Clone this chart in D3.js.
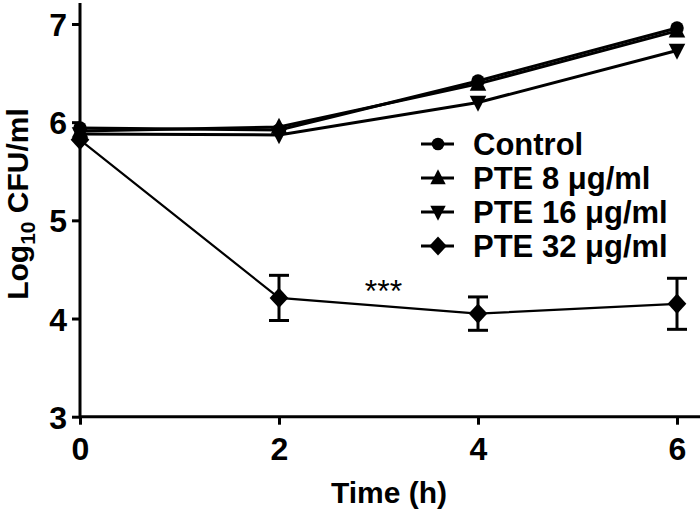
<!DOCTYPE html>
<html>
<head>
<meta charset="utf-8">
<script src="https://cdn.jsdelivr.net/npm/d3@7"></script>
<style>
  body { margin: 0; background: #fff; }
  svg text { font-family: Arial, "Liberation Sans", Helvetica, sans-serif; fill: #000; }
</style>
</head>
<body>
<div id="chart"></div>
<script>
const w = 700;
const h = 512;

// data
const times = [0, 2, 4, 6];
const seriesNames = ["Control", "PTE 8 \u03bcg/ml", "PTE 16 \u03bcg/ml", "PTE 32 \u03bcg/ml"];
const seriesSymbols = ["circle", "triangle", "triangleDown", "diamond"];
const controlVals = [5.94, 5.92, 6.42, 6.96];
const pte8Vals = [5.91, 5.95, 6.39, 6.93];
const pte16Vals = [5.88, 5.87, 6.20, 6.73];
const pte32Vals = [5.82, 4.21, 4.05, 4.15];
const pte32Err = [0, 0.23, 0.17, 0.26];
const xTicks = [0, 2, 4, 6];
const yTicks = [3, 4, 5, 6, 7];
const annotation = { x: 3.05, y: 4.17, label: "***" };

const allVals = [controlVals, pte8Vals, pte16Vals, pte32Vals];

const xScale = d3.scaleLinear().domain([0, 6]).range([80, 677]);
const yScale = d3.scaleLinear().domain([3, 7]).range([416.7, 24]);

const svg = d3.select("#chart")
  .append("svg")
  .attr("width", w)
  .attr("height", h);

// symbol shapes
const symbolPath = (name, s) => {
  if (name === "circle") return d3.symbol(d3.symbolCircle, Math.PI * (s * 0.45) * (s * 0.45))();
  if (name === "triangle") return `M0,${-s * 0.62}L${s * 0.55},${s * 0.45}L${-s * 0.55},${s * 0.45}Z`;
  if (name === "triangleDown") return `M0,${s * 0.62}L${s * 0.55},${-s * 0.45}L${-s * 0.55},${-s * 0.45}Z`;
  return `M0,${-s * 0.6}L${s * 0.55},0L0,${s * 0.6}L${-s * 0.55},0Z`;
};

// axes
const xAxis = d3.axisBottom(xScale).tickValues(xTicks).tickSize(8).tickPadding(13).tickFormat(d3.format("d"));
const yAxis = d3.axisLeft(yScale).tickValues(yTicks).tickSize(8).tickPadding(5).tickFormat(d3.format("d"));

const gx = svg.append("g")
  .attr("transform", "translate(0," + yScale(3) + ")")
  .call(xAxis);
gx.select(".domain").remove();
gx.append("line").attr("x1", 80).attr("x2", 700).attr("stroke", "#000").attr("stroke-width", 3);

const gy = svg.append("g")
  .attr("transform", "translate(" + xScale(0) + ",0)")
  .call(yAxis);
gy.select(".domain").remove();
gy.append("line").attr("y1", yScale(3) + 1.5).attr("y2", 3).attr("stroke", "#000").attr("stroke-width", 3);

svg.selectAll(".tick line").attr("stroke", "#000").attr("stroke-width", 3);
svg.selectAll(".tick text")
  .attr("font-size", 32)
  .attr("font-weight", "bold")
  .attr("fill", "#000");
gy.selectAll(".tick text").attr("dy", "0.36em");

// axis titles
svg.append("text")
  .attr("x", 389)
  .attr("y", 503)
  .attr("text-anchor", "middle")
  .attr("font-size", 30)
  .attr("font-weight", "bold")
  .text("Time (h)");

const yTitle = svg.append("text")
  .attr("transform", "translate(28,204) rotate(-90)")
  .attr("text-anchor", "middle")
  .attr("font-size", 30)
  .attr("font-weight", "bold");
yTitle.append("tspan").text("Log");
yTitle.append("tspan").attr("font-size", 21).attr("dy", 7).text("10");
yTitle.append("tspan").attr("dy", -7).text(" CFU/ml");

// lines
const line = d3.line()
  .x((d, i) => xScale(times[i]))
  .y(d => yScale(d));

allVals.forEach((vals, k) => {
  svg.append("path")
    .datum(vals)
    .attr("d", line)
    .attr("fill", "none")
    .attr("stroke", "#000")
    .attr("stroke-width", k === 3 ? 2.2 : 3);
});

// error bars for PTE 32
times.forEach((t, i) => {
  if (!pte32Err[i]) return;
  const cx = xScale(t);
  const top = yScale(pte32Vals[i] + pte32Err[i]);
  const bot = yScale(pte32Vals[i] - pte32Err[i]);
  svg.append("line").attr("x1", cx).attr("x2", cx).attr("y1", top).attr("y2", bot)
    .attr("stroke", "#000").attr("stroke-width", 3);
  [top, bot].forEach(yy => {
    svg.append("line").attr("x1", cx - 10).attr("x2", cx + 10).attr("y1", yy).attr("y2", yy)
      .attr("stroke", "#000").attr("stroke-width", 3);
  });
});

// markers
allVals.forEach((vals, k) => {
  svg.selectAll(".m" + k)
    .data(vals)
    .enter()
    .append("path")
    .attr("class", "m" + k)
    .attr("transform", (d, i) => "translate(" + xScale(times[i]) + "," + yScale(d) + ")")
    .attr("d", symbolPath(seriesSymbols[k], k === 3 ? 17 : 15))
    .attr("fill", "#000");
});

// significance stars
svg.append("text")
  .attr("x", xScale(annotation.x))
  .attr("y", yScale(annotation.y))
  .attr("text-anchor", "middle")
  .attr("font-size", 32)
  .text(annotation.label);

// legend
const legend = svg.append("g");
seriesNames.forEach((name, k) => {
  const yy = 144 + k * 34;
  legend.append("line").attr("x1", 421).attr("x2", 454).attr("y1", yy).attr("y2", yy)
    .attr("stroke", "#000").attr("stroke-width", 3);
  legend.append("path")
    .attr("transform", "translate(438," + yy + ")")
    .attr("d", symbolPath(seriesSymbols[k], k === 3 ? 16 : 14))
    .attr("fill", "#000");
  legend.append("text")
    .attr("x", 473)
    .attr("y", yy)
    .attr("dy", "0.36em")
    .attr("font-size", 31)
    .attr("font-weight", "bold")
    .text(name);
});
</script>
</body>
</html>
